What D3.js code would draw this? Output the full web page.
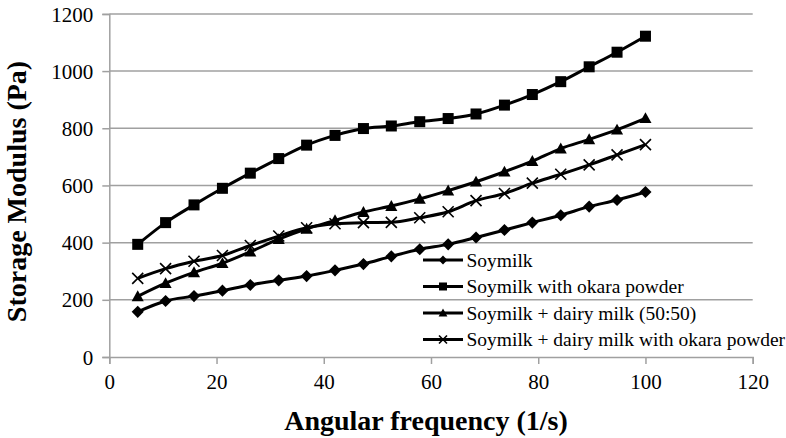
<!DOCTYPE html>
<html><head><meta charset="utf-8">
<script src="https://cdn.jsdelivr.net/npm/d3@7"></script>
<style>body{margin:0;background:#fff}svg{display:block}text{font-family:"Liberation Serif","Times New Roman",serif}</style>
</head><body>
<svg id="c" width="786" height="438"></svg>
<script>
const freq = [5.3, 10.5, 15.8, 21.1, 26.3, 31.6, 36.8, 42.1, 47.4, 52.6, 57.9, 63.2, 68.4, 73.7, 78.9, 84.2, 89.5, 94.7, 100];
const soymilk = [158, 196, 213, 232, 252, 268, 283, 303, 325, 352, 377, 394, 418, 444, 470, 496, 526, 549, 577];
const soyOkara = [394, 470, 532, 590, 643, 694, 741, 775, 799, 808, 823, 834, 850, 881, 918, 963, 1015, 1066, 1122];
const soyDairy = [212, 258, 296, 328, 368, 412, 448, 478, 507, 528, 553, 582, 613, 648, 685, 729, 761, 795, 835];
const soyDairyOkara = [275, 309, 335, 355, 390, 423, 452, 466, 470, 471, 487, 508, 547, 572, 608, 639, 672, 707, 743];
const seriesNames = ["Soymilk", "Soymilk with okara powder", "Soymilk + dairy milk (50:50)", "Soymilk + dairy milk with okara powder"];
const xTicks = [0, 20, 40, 60, 80, 100, 120];
const yTicks = [0, 200, 400, 600, 800, 1000, 1200];

const series = [
  {name: seriesNames[0], values: soymilk, marker: "diamond"},
  {name: seriesNames[1], values: soyOkara, marker: "square"},
  {name: seriesNames[2], values: soyDairy, marker: "triangle"},
  {name: seriesNames[3], values: soyDairyOkara, marker: "cross"}
];

const svg = d3.select("#c");
const L = 109.3, R = 752.7, T = 13.9, B = 357;
const x = d3.scaleLinear().domain([0, 120]).range([L, R]);
const y = d3.scaleLinear().domain([0, 1200]).range([B, T]);
const grid = "#a0a0a0";
const font = '"Liberation Serif", "Times New Roman", serif';

// gridlines
svg.append("g").selectAll("line").data(yTicks.filter(d => d > 0)).join("line")
  .attr("x1", L).attr("x2", R).attr("y1", d => y(d)).attr("y2", d => y(d))
  .attr("stroke", grid).attr("stroke-width", 1.5);

// axes
const xa = svg.append("g").attr("transform", `translate(0,${B})`)
  .call(d3.axisBottom(x).tickValues(xTicks).tickFormat(d3.format("d")).tickSize(7).tickPadding(10));
const ya = svg.append("g").attr("transform", `translate(${L},0)`)
  .call(d3.axisLeft(y).tickValues(yTicks).tickFormat(d3.format("d")).tickSize(7).tickPadding(9));
[xa, ya].forEach(a => {
  a.attr("font-family", null).attr("font-size", null);
  a.select(".domain").attr("stroke", grid).attr("stroke-width", 1.5);
  a.selectAll(".tick line").attr("stroke", grid).attr("stroke-width", 1.5);
  a.selectAll("text").style("font-family", font).style("font-size", "21px").attr("fill", "#000");
});
ya.selectAll("text").attr("dy", "0.34em");
xa.selectAll("text").attr("dy", "0.71em");

// symbols
function drawMarker(g, type, cx, cy, s) {
  if (type === "square") {
    g.append("rect").attr("x", cx - s/2).attr("y", cy - s/2).attr("width", s).attr("height", s).attr("fill", "#000");
  } else if (type === "diamond") {
    const h = s * 0.55;
    g.append("path").attr("d", `M${cx},${cy-h}L${cx+h},${cy}L${cx},${cy+h}L${cx-h},${cy}Z`).attr("fill", "#000");
  } else if (type === "triangle") {
    const h = s * 0.55;
    g.append("path").attr("d", `M${cx},${cy-h}L${cx+h},${cy+h*0.8}L${cx-h},${cy+h*0.8}Z`).attr("fill", "#000");
  } else if (type === "cross") {
    const h = s * 0.5;
    g.append("path").attr("d", `M${cx-h},${cy-h}L${cx+h},${cy+h}M${cx+h},${cy-h}L${cx-h},${cy+h}`)
      .attr("stroke", "#000").attr("stroke-width", 1.6).attr("fill", "none");
  }
}

const line = d3.line().x((d, i) => x(freq[i])).y(d => y(d)).curve(d3.curveMonotoneX);
series.forEach(s => {
  const g = svg.append("g");
  g.append("path").attr("d", line(s.values)).attr("fill", "none").attr("stroke", "#000").attr("stroke-width", 3);
  s.values.forEach((v, i) => drawMarker(g, s.marker, x(freq[i]), y(v), 11));
});

// legend
const legY = [260, 286.5, 313, 339.5];
const lg = svg.append("g");
series.forEach((s, i) => {
  lg.append("line").attr("x1", 423).attr("x2", 463).attr("y1", legY[i]).attr("y2", legY[i]).attr("stroke", "#000").attr("stroke-width", 3);
  drawMarker(lg, s.marker, 443, legY[i], 8);
  lg.append("text").attr("x", 466.5).attr("y", legY[i]).attr("dy", "0.35em")
    .style("font-family", font).style("font-size", "19.5px").text(s.name);
});

// titles
svg.append("text").attr("x", 426).attr("y", 430).attr("text-anchor", "middle")
  .style("font-family", font).style("font-weight", "bold").style("font-size", "28px").text("Angular frequency (1/s)");
svg.append("text").attr("transform", "translate(26,191.5) rotate(-90)").attr("text-anchor", "middle")
  .style("font-family", font).style("font-weight", "bold").style("font-size", "28px").text("Storage Modulus (Pa)");
</script>
</body></html>
